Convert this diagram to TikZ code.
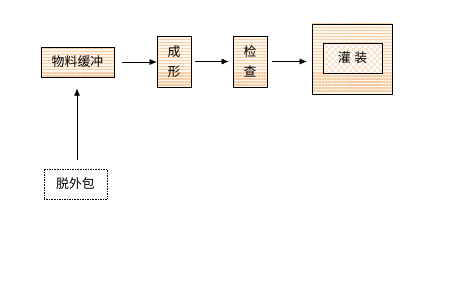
\documentclass[tikz,border=0pt]{standalone}
\usepackage{fontspec}
\newfontfamily\cjk{Noto Sans CJK SC}
\usepackage{tikz}
\usetikzlibrary{arrows.meta, patterns, patterns.meta, positioning}

\definecolor{stripe}{RGB}{247,204,165}
\definecolor{cream}{RGB}{255,247,236}

% small checkerboard for the inner box
\pgfdeclarepatternformonly{smallchecker}{\pgfpointorigin}{\pgfpoint{5pt}{5pt}}{\pgfpoint{5pt}{5pt}}{
  \pgfpathrectangle{\pgfpointorigin}{\pgfpoint{2.5pt}{2.5pt}}
  \pgfpathrectangle{\pgfpoint{2.5pt}{2.5pt}}{\pgfpoint{2.5pt}{2.5pt}}
  \pgfusepath{fill}
}

\begin{document}
\begin{tikzpicture}[x=0.03cm, y=-0.03cm,
  stepbox/.style={rectangle, draw, thin, preaction={fill=cream},
                  pattern={Lines[angle=0, distance=2.6pt, line width=1.1pt]},
                  pattern color=stripe,
                  align=center, font=\cjk\fontsize{11}{17}\selectfont,
                  inner sep=0pt},
  chk/.style={rectangle, draw, thin, preaction={fill=white},
              pattern=smallchecker, pattern color=stripe!55,
              align=center, font=\cjk\fontsize{11}{13}\selectfont,
              inner sep=0pt},
  srcbox/.style={rectangle, draw, densely dotted, thin, fill=white,
                 font=\cjk\fontsize{11}{13}\selectfont, inner sep=0pt},
  arr/.style={-{Latex[length=6pt, width=5pt]}, thin}
]
\useasboundingbox (0,0) rectangle (450,280);

%% ---- Main line ----
\node[stepbox, minimum width=2.19cm, minimum height=0.9cm] (buf) at (77.5, 62) {物料缓冲};
\node[stepbox, minimum width=1.02cm, minimum height=1.53cm] (form) at (174, 61.5) {成\\形};
\node[stepbox, minimum width=1.02cm, minimum height=1.53cm] (chk) at (250, 61.5) {检\\查};
\node[stepbox, minimum width=2.4cm, minimum height=2.1cm] (fillout) at (352, 59) {};
\node[chk, minimum width=1.77cm, minimum height=0.9cm] (fillin) at (352.5, 58) {灌\hspace{3pt}装};

%% ---- Source ----
\node[srcbox, minimum width=1.89cm, minimum height=0.9cm] (unpack) at (75.5, 184) {脱外包};

%% ---- Arrows ----
\draw[arr, shorten <=7*0.03cm] (buf.east) -- (buf.east -| form.west);
\draw[arr, shorten <=4*0.03cm, shorten >=4*0.03cm] (form.east) -- (chk.west);
\draw[arr, shorten <=5*0.03cm, shorten >=5*0.03cm] (chk.east) -- (chk.east -| fillout.west);
\draw[arr, shorten <=9*0.03cm, shorten >=11*0.03cm] (unpack.north -| 77,0) -- (buf.south -| 77,0);

\end{tikzpicture}
\end{document}
